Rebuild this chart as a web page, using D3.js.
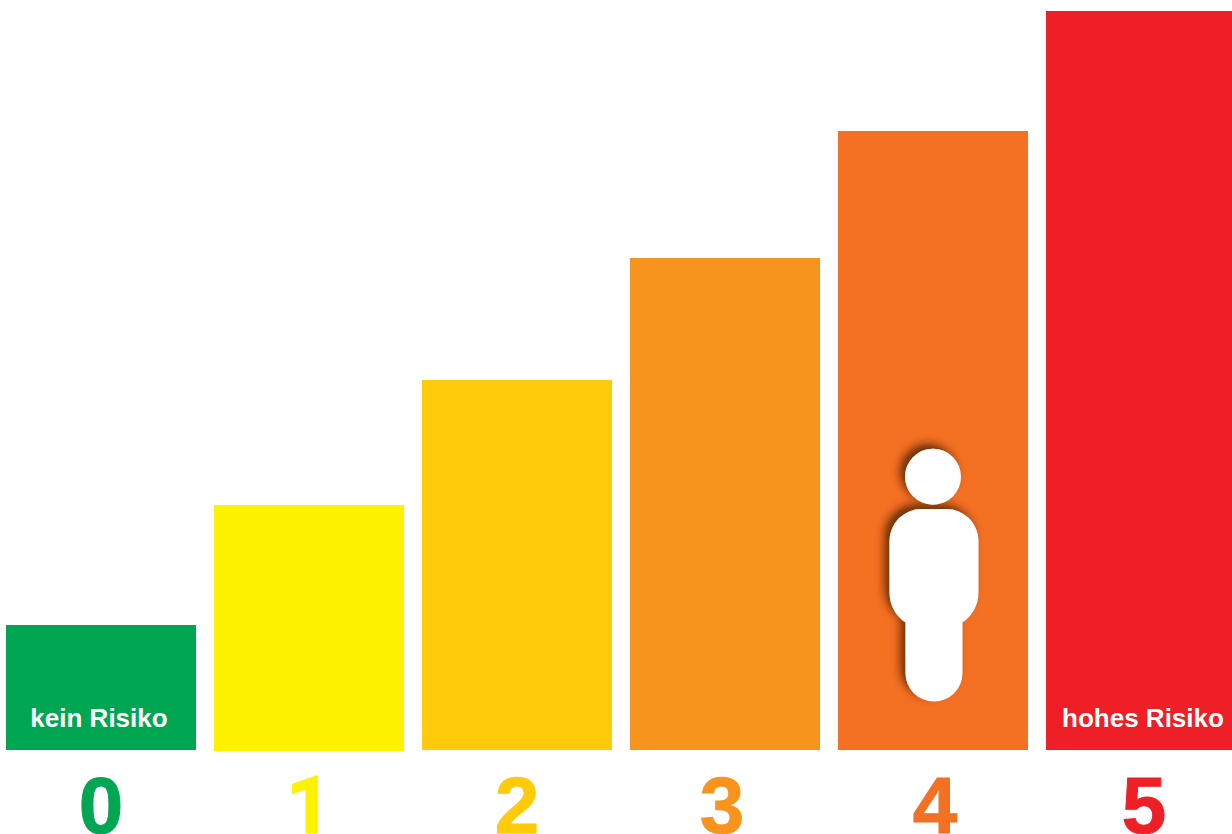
<!DOCTYPE html>
<html>
<head>
<meta charset="utf-8">
<script src="https://cdn.jsdelivr.net/npm/d3@7"></script>
<style>
  html, body { margin: 0; padding: 0; background: #fff; overflow: hidden; }
  svg { display: block; }
  text { font-family: "Liberation Sans", Arial, sans-serif; font-weight: bold; }
</style>
</head>
<body>
<svg id="graph"></svg>
<script>
const levels = [0, 1, 2, 3, 4, 5];
const barValues = [125, 245, 370, 492, 619, 739];
const barBases = [0, -1, 0, 0, 0, 0];
const barColors = ["#00a651", "#fff200", "#ffcb0a", "#f7941e", "#f47022", "#ee1f26"];
const endLabels = [[0, "kein Risiko"], [5, "hohes Risiko"]];
const personLevel = 4;

const width = 1232;
const height = 834;
const baseline = 750;

const svg = d3.select("#graph")
    .attr("width", width)
    .attr("height", height);

const xScale = d3.scaleBand()
    .domain(levels)
    .range([6 - 9, 6 - 9 + 208 * 6])
    .paddingInner(18 / 208)
    .paddingOuter(9 / 208);

const yScale = d3.scaleLinear()
    .domain([0, baseline])
    .range([baseline, 0]);

svg.selectAll("rect.bar")
    .data(levels)
    .join("rect")
    .attr("class", "bar")
    .attr("x", d => xScale(d))
    .attr("y", (d, i) => yScale(barValues[i]))
    .attr("width", xScale.bandwidth())
    .attr("height", (d, i) => yScale(barBases[i]) - yScale(barValues[i]))
    .attr("fill", (d, i) => barColors[i]);

// end labels inside first and last bar
svg.selectAll("text.end-label")
    .data(endLabels)
    .join("text")
    .attr("class", "end-label")
    .attr("x", d => d[0] === 5 ? 1143 : 99)
    .attr("y", 727)
    .attr("text-anchor", "middle")
    .attr("font-size", 26)
    .attr("fill", "#fff")
    .text(d => d[1]);

// big level numbers under the bars
const digitNudge = [0, 0, 0, -3, 2, 3];
const xAxis = d3.axisBottom(xScale).tickSize(0).tickPadding(0);
const axis = svg.append("g")
    .attr("transform", `translate(0,${baseline})`)
    .call(xAxis);
axis.select(".domain").remove();
axis.selectAll(".tick text")
    .attr("x", (d, i) => digitNudge[i])
    .attr("y", 83)
    .attr("dy", 0)
    .attr("font-size", 80)
    .attr("font-family", null)
    // the 1 in Liberation has a foot, the reference has none
    .style("font-family", d => d === 1 ? "Roboto, sans-serif" : '"Liberation Sans", Arial, sans-serif')
    .style("font-weight", "bold")
    .attr("fill", (d, i) => barColors[i])
    .attr("stroke", (d, i) => barColors[i])
    .attr("stroke-width", 1);

// person icon standing in level 4
const defs = svg.append("defs");
const shadow = defs.append("filter")
    .attr("id", "person-shadow")
    .attr("x", "-30%").attr("y", "-30%")
    .attr("width", "160%").attr("height", "160%");
shadow.append("feDropShadow")
    .attr("dx", -5)
    .attr("dy", -5)
    .attr("stdDeviation", 4.5)
    .attr("flood-color", "#3a1a05")
    .attr("flood-opacity", 0.75);

const cx = xScale(personLevel) + xScale.bandwidth() / 2;
const person = svg.append("g")
    .attr("transform", `translate(${cx},0)`)
    .attr("fill", "#fff")
    .attr("filter", "url(#person-shadow)");

person.append("circle")
    .attr("cx", 0)
    .attr("cy", 476.7)
    .attr("r", 28);

person.append("path")
    .attr("transform", "translate(1,0)")
    .attr("d", "M-44.5,541 A32,32 0 0 1 -12.5,509 H12.5 A32,32 0 0 1 44.5,541 V592"
        + " C44.5,606 38,616 28.5,622.5 V673 A28.5,28.5 0 0 1 -28.5,673 V622.5"
        + " C-38,616 -44.5,606 -44.5,592 Z");
</script>
</body>
</html>
